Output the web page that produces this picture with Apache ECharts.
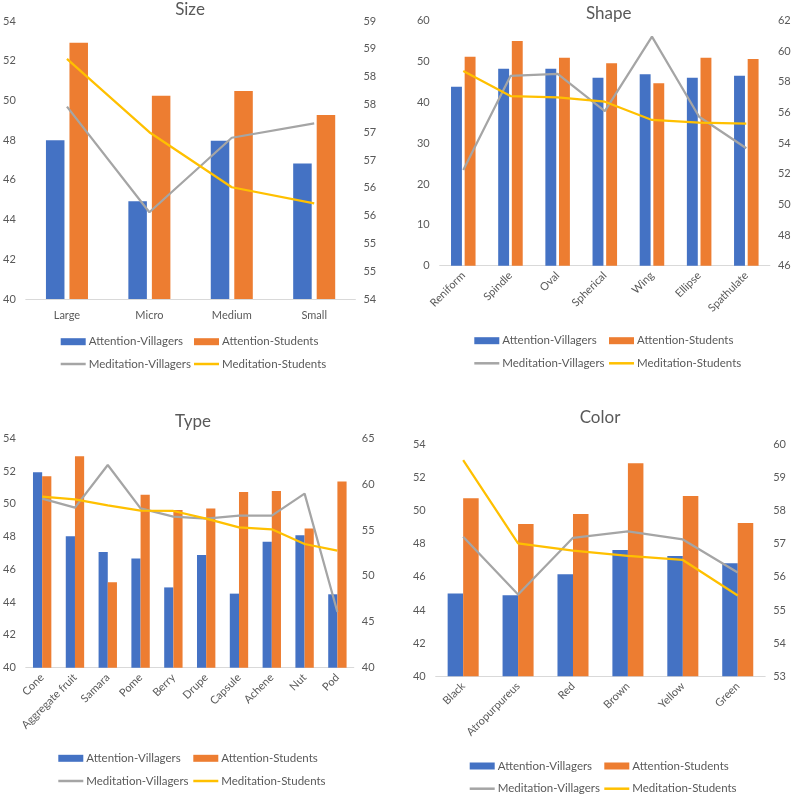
<!DOCTYPE html>
<html>
<head>
<meta charset="utf-8">
<script src="https://cdn.jsdelivr.net/npm/echarts@6/dist/echarts.min.js"></script>
<style>
html,body{margin:0;padding:0;background:#fff;}
#c{width:794px;height:795px;}
</style>
</head>
<body>
<div id="c"></div>
<script>
// ---- Data ----
const seriesNames = ['Attention-Villagers', 'Attention-Students', 'Meditation-Villagers', 'Meditation-Students'];

const sizeCats = ['Large', 'Micro', 'Medium', 'Small'];
const sizeAttV = [48.0, 44.92, 47.97, 46.83];
const sizeAttS = [52.9, 50.24, 50.47, 49.26];
const sizeMedV = [57.46, 55.56, 56.90, 57.16];
const sizeMedS = [58.32, 57.0, 56.01, 55.72];
const sizeLeftAxis = [40, 54, 2];
const sizeRightAxis = [54, 59, 0.5];

const shapeCats = ['Reniform', 'Spindle', 'Oval', 'Spherical', 'Wing', 'Ellipse', 'Spathulate'];
const shapeAttV = [43.8, 48.25, 48.25, 46.0, 46.9, 46.0, 46.5];
const shapeAttS = [51.2, 55.0, 50.9, 49.6, 44.7, 50.9, 50.6];
const shapeMedV = [52.25, 58.39, 58.52, 56.1, 60.96, 55.73, 53.67];
const shapeMedS = [58.72, 57.08, 57.0, 56.71, 55.52, 55.34, 55.28];
const shapeLeftAxis = [0, 60, 10];
const shapeRightAxis = [46, 62, 2];

const typeCats = ['Cone', 'Aggregate fruit', 'Samara', 'Pome', 'Berry', 'Drupe', 'Capsule', 'Achene', 'Nut', 'Pod'];
const typeAttV = [51.93, 48.02, 47.06, 46.67, 44.9, 46.88, 44.52, 47.69, 48.08, 44.48];
const typeAttS = [51.68, 52.9, 45.21, 50.56, 49.63, 49.71, 50.72, 50.79, 48.49, 51.36];
const typeMedV = [58.42, 57.44, 62.09, 57.37, 56.46, 56.24, 56.57, 56.57, 58.97, 46.07];
const typeMedS = [58.64, 58.35, 57.70, 57.11, 57.08, 56.24, 55.30, 55.08, 53.48, 52.75];
const typeLeftAxis = [40, 54, 2];
const typeRightAxis = [40, 65, 5];

const colorCats = ['Black', 'Atropurpureus', 'Red', 'Brown', 'Yellow', 'Green'];
const colorAttV = [44.99, 44.89, 46.16, 47.62, 47.26, 46.82];
const colorAttS = [50.74, 49.19, 49.80, 52.85, 50.88, 49.25];
const colorMedV = [57.21, 55.47, 57.18, 57.37, 57.13, 56.13];
const colorMedS = [59.52, 57.01, 56.79, 56.63, 56.51, 55.44];
const colorLeftAxis = [40, 54, 2];
const colorRightAxis = [53, 60, 1];

// ---- Styling / layout ----
const FONT = 'Lato';
const TXT = '#595959';
const COLORS = ['#4472C4', '#ED7D31', '#A5A5A5', '#FFC000'];
const LINE_ICON = 'path://M0,0H25V2.5H0Z';

const panels = [
  { title: 'Size', cats: sizeCats, data: [sizeAttV, sizeAttS, sizeMedV, sizeMedS], la: sizeLeftAxis, ra: sizeRightAxis,
    grid: { left: 25.4, top: 21, width: 330, height: 278 }, titlePos: [190, 1], rotate: 0,
    barGap: '27%', barCat: '49%', legend: [60.7, 194, 341.7, 364] },
  { title: 'Shape', cats: shapeCats, data: [shapeAttV, shapeAttS, shapeMedV, shapeMedS], la: shapeLeftAxis, ra: shapeRightAxis,
    grid: { left: 439.7, top: 20.7, width: 330.2, height: 245 }, titlePos: [608.7, 5], rotate: 45,
    barGap: '25%', barCat: '48%', legend: [474.3, 609, 340.7, 363.3] },
  { title: 'Type', cats: typeCats, data: [typeAttV, typeAttS, typeMedV, typeMedS], la: typeLeftAxis, ra: typeRightAxis,
    grid: { left: 23.5, top: 438.3, width: 330.3, height: 229.4 }, titlePos: [193, 413], rotate: 45,
    barGap: '0%', barCat: '44%', legend: [58.3, 193.3, 758.3, 781] },
  { title: 'Color', cats: colorCats, data: [colorAttV, colorAttS, colorMedV, colorMedS], la: colorLeftAxis, ra: colorRightAxis,
    grid: { left: 435.7, top: 444.3, width: 329.5, height: 232 }, titlePos: [600, 409], rotate: 45,
    barGap: '0%', barCat: '43.5%', legend: [469.7, 604.3, 766, 788.7] }
];

const option = {
  animation: false,
  backgroundColor: '#fff',
  textStyle: { fontFamily: FONT },
  title: [], grid: [], xAxis: [], yAxis: [], series: [], legend: []
};

panels.forEach((p, i) => {
  option.title.push({
    text: p.title, left: p.titlePos[0], top: p.titlePos[1], textAlign: 'center', padding: 0,
    textStyle: { fontFamily: FONT, fontSize: 17, fontWeight: 'normal', color: TXT }
  });
  option.grid.push(Object.assign({ containLabel: false }, p.grid));
  option.xAxis.push({
    type: 'category', gridIndex: i, data: p.cats,
    axisLine: { lineStyle: { color: '#D9D9D9', width: 1 } },
    axisTick: { show: false },
    axisLabel: { color: TXT, fontFamily: FONT, fontSize: 11, rotate: p.rotate, margin: p.rotate ? 8 : 11, interval: 0 }
  });
  const yl = {
    type: 'value', gridIndex: i, min: p.la[0], max: p.la[1], interval: p.la[2], position: 'left',
    splitLine: { show: false }, axisLine: { show: false }, axisTick: { show: false },
    axisLabel: { color: TXT, fontFamily: FONT, fontSize: 11, margin: 10 }
  };
  const yr = {
    type: 'value', gridIndex: i, min: p.ra[0], max: p.ra[1], interval: p.ra[2], position: 'right',
    splitLine: { show: false }, axisLine: { show: false }, axisTick: { show: false },
    axisLabel: { color: TXT, fontFamily: FONT, fontSize: 11, margin: 8, formatter: v => String(Math.round(v)) }
  };
  option.yAxis.push(yl, yr);
  const yi = i * 2;
  [0, 1].forEach(k => {
    option.series.push({
      type: 'bar', name: seriesNames[k], xAxisIndex: i, yAxisIndex: yi, data: p.data[k],
      itemStyle: { color: COLORS[k] }, barGap: p.barGap, barCategoryGap: p.barCat
    });
  });
  [2, 3].forEach(k => {
    option.series.push({
      type: 'line', name: seriesNames[k], xAxisIndex: i, yAxisIndex: yi + 1, data: p.data[k],
      symbol: 'none', lineStyle: { color: COLORS[k], width: 2.25 }, itemStyle: { color: COLORS[k] }, z: 5
    });
  });
  const lg = {
    orient: 'horizontal', itemWidth: 25, itemHeight: 7,
    textStyle: { color: TXT, fontFamily: FONT, fontSize: 11.5, lineHeight: 14, padding: [0, 0, 0, -2] },
    padding: 0, selectedMode: false
  };
  // [seriesIndex, column, row]
  [[0, 0, 0], [1, 1, 0], [2, 0, 1], [3, 1, 1]].forEach(([k, col, row]) => {
    option.legend.push(Object.assign({}, lg, {
      left: p.legend[col], top: p.legend[2 + row] - 7,
      data: [{ name: seriesNames[k], icon: k < 2 ? 'rect' : LINE_ICON }]
    }));
  });
});

const chart = echarts.init(document.getElementById('c'), null, { renderer: 'canvas' });
chart.setOption(option);
</script>
</body>
</html>
